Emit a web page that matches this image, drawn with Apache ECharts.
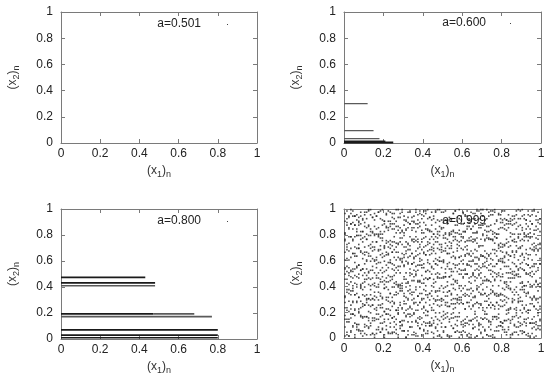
<!DOCTYPE html>
<html>
<head>
<meta charset="utf-8">
<script src="https://cdn.jsdelivr.net/npm/echarts@6/dist/echarts.min.js"></script>
<style>html,body{margin:0;padding:0;background:#fff}#c{width:550px;height:383px}</style>
</head>
<body>
<div id="c"></div>
<script>
// ---- data ----
const panelLabels = ["a=0.501", "a=0.600", "a=0.800", "a=0.999"];

// panel 2 (a=0.600): horizontal point bands (y level, x start, x end)
const p2Y  = [0.300, 0.095, 0.033, 0.012, 0.004];
const p2X0 = [0, 0, 0, 0, 0];
const p2X1 = [0.120, 0.150, 0.180, 0.210, 0.250];
const p2Dark = [0, 0, 0, 1, 1];

// panel 3 (a=0.800)
const p3Y  = [0.474, 0.432, 0.410, 0.193, 0.193, 0.172, 0.070, 0.030, 0.010];
const p3X0 = [0, 0, 0, 0, 0.470, 0, 0, 0, 0];
const p3X1 = [0.430, 0.480, 0.480, 0.470, 0.680, 0.770, 0.800, 0.800, 0.800];
const p3Dark = [1, 1, 0, 1, 0, 0, 1, 1, 1];

// panel 4 (a=0.999): points, each "xxyy" = x and y in hundredths
const p4 = [
"0001 0104 0201 0305 0409 0502 0606 0705 0803 0905 1008 1109 1207 1309 1403 1502 1603 1708 1804 1906 2002 2106 2204 2303 2403 2508 2603 2702 2807 2909 3005 3100 3202 3308 3408 3504 3601 3709 3807 3901 4006 4109 4203 4309 4409 4503 4607 4705 4801 4900 5005 5108 5202 5300 5409 5507 5604 5709 5804 5904 6005 6109 6202 6303 6400 6507 6608 6701 6806 6904 7000 7106 7202 7308 7406 7502 7600 7708 7809 7909 8008 8106 8202 8308 8400 8503 8604 8708 8802 8905 9003 9104 9202 9301 9401 9507 9600 9706 9807 9909",
"0008 0102 0201 0304 0408 0500 0608 0706 0805 0901 1003 1102 1208 1302 1403 1500 1606 1706 1804 1907 2000 2109 2203 2308 2404 2504 2606 2700 2809 2905 3005 3100 3205 3308 3402 3502 3603 3701 3807 3902 4005 4103 4205 4309 4404 4500 4608 4701 4802 4908 5004 5108 5201 5301 5401 5507 5604 5705 5800 5902 6008 6104 6201 6300 6402 6507 6600 6701 6809 6903 7008 7105 7202 7301 7401 7500 7605 7705 7805 7909 8006 8104 8204 8306 8402 8502 8609 8704 8808 8909 9005 9104 9209 9303 9400 9503 9608 9701 9809 9906",
"0014 0114 0212 0318 0418 0511 0610 0719 0817 0915 1016 1116 1215 1319 1413 1513 1614 1714 1816 1911 2012 2118 2214 2317 2415 2516 2614 2718 2812 2913 3013 3117 3218 3316 3417 3518 3613 3711 3816 3915 4012 4117 4211 4312 4410 4511 4619 4710 4819 4911 5014 5115 5216 5314 5418 5515 5616 5716 5819 5912 6013 6114 6216 6310 6413 6514 6618 6716 6811 6910 7014 7115 7214 7313 7412 7516 7616 7714 7818 7912 8011 8113 8213 8319 8413 8516 8610 8717 8812 8916 9010 9112 9214 9319 9411 9514 9611 9712 9817 9913",
"0017 0112 0214 0315 0418 0517 0610 0710 0816 0916 1010 1116 1213 1311 1415 1515 1618 1718 1811 1917 2014 2118 2218 2311 2415 2512 2610 2719 2812 2910 3019 3116 3212 3318 3412 3519 3612 3715 3814 3910 4019 4111 4217 4311 4415 4513 4616 4714 4813 4916 5017 5118 5219 5312 5415 5519 5610 5713 5816 5910 6010 6111 6211 6313 6413 6510 6615 6713 6810 6915 7014 7118 7218 7312 7410 7514 7616 7716 7815 7912 8011 8113 8218 8314 8411 8514 8616 8719 8815 8911 9019 9114 9211 9315 9411 9511 9616 9710 9819 9914",
"0023 0123 0220 0325 0427 0522 0627 0720 0823 0926 1025 1127 1225 1329 1425 1529 1621 1729 1825 1923 2020 2129 2222 2321 2428 2526 2621 2721 2827 2923 3028 3121 3229 3323 3422 3526 3621 3721 3827 3929 4023 4121 4220 4325 4421 4521 4628 4725 4824 4928 5020 5127 5224 5324 5426 5522 5623 5727 5829 5929 6026 6122 6227 6324 6429 6525 6626 6727 6823 6925 7021 7128 7228 7325 7427 7525 7622 7727 7822 7924 8028 8129 8221 8322 8422 8527 8629 8723 8828 8921 9028 9123 9220 9321 9421 9529 9624 9729 9821 9922",
"0027 0121 0228 0322 0428 0521 0628 0722 0828 0924 1025 1129 1220 1324 1425 1522 1623 1725 1823 1926 2020 2122 2228 2327 2424 2527 2621 2723 2825 2922 3026 3126 3222 3324 3429 3527 3627 3725 3827 3922 4024 4127 4220 4329 4423 4526 4629 4729 4829 4925 5029 5125 5227 5324 5429 5526 5626 5729 5826 5927 6026 6122 6227 6327 6422 6524 6620 6727 6826 6926 7023 7120 7223 7325 7423 7525 7624 7727 7825 7929 8024 8125 8227 8321 8423 8528 8622 8721 8827 8928 9025 9122 9225 9321 9426 9526 9624 9722 9827 9924",
"0032 0137 0234 0336 0436 0533 0639 0731 0839 0933 1032 1130 1230 1333 1430 1535 1639 1739 1832 1931 2038 2131 2237 2334 2431 2533 2635 2739 2836 2936 3032 3139 3230 3334 3433 3535 3637 3732 3839 3930 4030 4133 4233 4334 4432 4539 4635 4732 4836 4930 5035 5139 5235 5336 5433 5530 5637 5733 5838 5931 6033 6132 6233 6332 6438 6536 6632 6737 6839 6934 7033 7134 7239 7330 7437 7536 7633 7732 7833 7933 8038 8132 8239 8338 8438 8530 8637 8735 8833 8931 9039 9135 9232 9335 9431 9530 9631 9739 9830 9931",
"0031 0135 0237 0333 0438 0533 0634 0731 0838 0937 1039 1133 1230 1337 1430 1532 1631 1735 1834 1930 2038 2139 2231 2334 2439 2539 2633 2734 2838 2938 3034 3131 3236 3337 3435 3530 3639 3732 3834 3934 4037 4136 4231 4334 4436 4530 4636 4736 4838 4930 5038 5132 5232 5336 5434 5538 5630 5730 5831 5936 6038 6134 6237 6337 6434 6531 6631 6738 6835 6933 7037 7134 7232 7333 7434 7535 7634 7734 7832 7934 8033 8137 8231 8330 8437 8535 8633 8739 8830 8937 9037 9137 9234 9334 9439 9539 9632 9730 9836 9939",
"0045 0145 0241 0347 0440 0542 0647 0746 0841 0948 1043 1148 1246 1340 1446 1542 1646 1741 1843 1943 2041 2143 2248 2344 2445 2548 2643 2740 2840 2940 3047 3145 3242 3340 3444 3544 3649 3743 3843 3948 4042 4146 4245 4346 4440 4542 4649 4747 4846 4940 5046 5147 5243 5347 5441 5541 5643 5742 5840 5940 6047 6140 6249 6343 6442 6548 6647 6740 6849 6941 7042 7147 7244 7344 7443 7547 7644 7747 7840 7944 8047 8142 8243 8340 8446 8549 8646 8749 8847 8947 9042 9140 9249 9343 9441 9540 9641 9744 9841 9946",
"0049 0142 0248 0343 0446 0548 0641 0749 0840 0942 1045 1145 1241 1345 1441 1540 1648 1746 1845 1947 2044 2146 2243 2347 2447 2542 2641 2741 2841 2942 3045 3142 3243 3348 3449 3547 3648 3744 3844 3942 4045 4140 4245 4346 4449 4545 4643 4746 4849 4946 5047 5147 5240 5347 5448 5545 5644 5744 5849 5949 6046 6149 6249 6346 6447 6549 6644 6746 6848 6946 7044 7144 7245 7344 7449 7540 7645 7749 7848 7947 8049 8143 8241 8346 8443 8546 8648 8748 8849 8942 9043 9140 9240 9349 9448 9547 9649 9743 9841 9942",
"0054 0151 0254 0352 0451 0553 0655 0756 0852 0953 1057 1153 1250 1359 1455 1550 1654 1758 1858 1950 2051 2156 2258 2358 2457 2552 2654 2752 2850 2959 3056 3159 3258 3350 3457 3558 3655 3756 3859 3956 4057 4151 4258 4357 4455 4553 4657 4756 4859 4954 5058 5150 5257 5353 5451 5557 5656 5756 5857 5959 6057 6153 6257 6359 6459 6550 6657 6753 6852 6954 7057 7158 7254 7356 7452 7551 7650 7757 7850 7953 8058 8158 8255 8350 8453 8558 8657 8755 8853 8954 9053 9152 9257 9356 9454 9551 9655 9757 9852 9957",
"0053 0155 0250 0351 0453 0558 0654 0756 0852 0953 1050 1159 1251 1352 1452 1559 1657 1750 1852 1954 2059 2152 2254 2358 2453 2556 2650 2755 2855 2958 3055 3150 3257 3353 3457 3552 3651 3752 3856 3954 4054 4151 4252 4351 4454 4559 4657 4750 4859 4959 5059 5153 5255 5358 5453 5551 5654 5751 5853 5952 6052 6152 6256 6356 6455 6559 6652 6757 6855 6950 7055 7155 7259 7352 7457 7555 7655 7757 7859 7959 8059 8155 8250 8355 8450 8551 8651 8755 8852 8957 9058 9152 9250 9356 9450 9555 9657 9751 9854 9957",
"0060 0161 0260 0369 0465 0565 0669 0769 0867 0961 1066 1160 1265 1369 1467 1560 1662 1767 1864 1965 2063 2164 2265 2369 2466 2568 2666 2762 2860 2961 3064 3167 3262 3368 3465 3561 3667 3764 3861 3968 4066 4164 4260 4368 4468 4569 4661 4769 4868 4966 5060 5169 5265 5365 5462 5563 5662 5769 5862 5963 6060 6164 6268 6364 6463 6560 6668 6767 6861 6964 7063 7162 7261 7364 7465 7560 7668 7763 7869 7967 8066 8162 8266 8360 8463 8566 8662 8767 8869 8969 9065 9162 9265 9361 9464 9560 9667 9769 9868 9969",
"0066 0168 0267 0362 0465 0563 0663 0769 0866 0965 1064 1166 1263 1363 1461 1568 1660 1768 1868 1962 2069 2166 2264 2360 2466 2562 2660 2766 2861 2965 3062 3165 3268 3363 3465 3562 3663 3769 3865 3960 4065 4164 4267 4364 4465 4567 4665 4760 4862 4968 5067 5167 5265 5369 5469 5566 5661 5767 5862 5969 6068 6163 6265 6365 6467 6565 6662 6762 6860 6963 7063 7167 7265 7363 7461 7568 7665 7767 7860 7961 8061 8163 8265 8364 8463 8567 8664 8766 8860 8963 9064 9160 9268 9364 9469 9568 9668 9764 9867 9961",
"0076 0170 0273 0378 0476 0578 0679 0779 0879 0977 1070 1176 1279 1379 1470 1570 1674 1778 1871 1975 2070 2173 2270 2375 2474 2574 2670 2772 2877 2977 3079 3170 3273 3371 3476 3574 3675 3774 3872 3974 4077 4178 4272 4373 4470 4576 4678 4774 4879 4972 5079 5173 5276 5379 5471 5578 5676 5772 5871 5975 6078 6170 6275 6377 6478 6574 6676 6773 6871 6971 7071 7175 7279 7376 7476 7576 7678 7777 7871 7973 8070 8171 8273 8370 8471 8575 8676 8771 8878 8975 9076 9178 9279 9378 9477 9572 9673 9777 9872 9973",
"0075 0172 0278 0378 0475 0570 0679 0772 0876 0974 1078 1176 1271 1372 1474 1579 1674 1779 1877 1977 2071 2175 2274 2372 2471 2578 2673 2773 2874 2972 3070 3174 3272 3378 3475 3576 3678 3776 3870 3976 4070 4171 4274 4376 4478 4572 4674 4777 4872 4970 5077 5177 5271 5374 5473 5575 5678 5775 5874 5978 6077 6174 6271 6375 6475 6576 6675 6777 6870 6976 7079 7176 7277 7377 7476 7575 7673 7777 7872 7970 8072 8172 8276 8374 8478 8575 8674 8774 8877 8970 9071 9175 9278 9375 9478 9578 9670 9771 9876 9972",
"0080 0187 0285 0388 0484 0587 0684 0789 0882 0982 1086 1185 1287 1382 1482 1586 1680 1780 1882 1980 2088 2185 2285 2388 2484 2584 2686 2786 2885 2982 3081 3184 3285 3388 3483 3589 3688 3788 3889 3983 4089 4184 4284 4383 4487 4580 4689 4782 4886 4985 5089 5181 5288 5380 5480 5583 5681 5781 5883 5988 6088 6182 6284 6386 6484 6586 6688 6781 6885 6987 7080 7188 7282 7386 7483 7580 7681 7780 7880 7985 8089 8184 8288 8385 8488 8587 8680 8784 8880 8980 9083 9181 9288 9386 9484 9588 9680 9783 9884 9982",
"0081 0189 0284 0388 0489 0587 0682 0787 0888 0982 1089 1180 1286 1384 1481 1580 1684 1785 1880 1987 2082 2186 2283 2386 2488 2588 2681 2783 2881 2983 3087 3183 3289 3388 3485 3585 3682 3785 3886 3981 4081 4187 4283 4382 4482 4580 4684 4780 4882 4984 5085 5180 5289 5381 5482 5582 5687 5787 5880 5980 6082 6182 6286 6389 6484 6581 6681 6782 6887 6985 7087 7183 7286 7382 7487 7582 7688 7780 7884 7989 8085 8187 8283 8388 8481 8580 8688 8789 8886 8987 9085 9180 9284 9380 9481 9588 9683 9786 9889 9988",
"0096 0198 0293 0396 0498 0594 0695 0790 0897 0992 1095 1197 1299 1399 1493 1596 1694 1797 1892 1999 2090 2196 2290 2397 2496 2592 2699 2799 2896 2999 3094 3191 3293 3398 3490 3594 3697 3795 3896 3995 4094 4198 4292 4393 4497 4592 4698 4799 4899 4997 5091 5198 5290 5393 5492 5596 5698 5790 5892 5994 6097 6194 6294 6392 6490 6596 6692 6799 6892 6996 7099 7191 7292 7394 7498 7595 7699 7790 7895 7992 8091 8198 8291 8390 8490 8594 8694 8795 8899 8998 9094 9192 9291 9395 9490 9595 9699 9791 9891 9992",
"0090 0192 0294 0399 0494 0594 0691 0793 0894 0991 1097 1192 1298 1395 1493 1591 1694 1797 1898 1991 2090 2195 2298 2390 2493 2596 2690 2793 2893 2997 3091 3190 3297 3397 3493 3590 3699 3791 3898 3992 4098 4196 4299 4393 4491 4594 4697 4791 4890 4991 5097 5191 5291 5391 5491 5596 5698 5793 5899 5991 6096 6195 6298 6391 6497 6592 6696 6798 6898 6999 7094 7191 7299 7397 7495 7598 7697 7791 7896 7995 8098 8192 8291 8395 8492 8591 8692 8798 8892 8992 9099 9195 9291 9398 9494 9598 9698 9794 9897 9992"
];

// ---- chart ----
const FONT = 'Liberation Sans, Arial, sans-serif';
const grids = [
  {left: 61, top: 12, width: 196, height: 131},
  {left: 344, top: 12, width: 197, height: 131},
  {left: 61, top: 209, width: 196, height: 130},
  {left: 344, top: 209, width: 197, height: 129}
];
const axisColor = '#7a7a7a';
const rich = {
  t: {fontSize: 12, color: '#333', fontFamily: FONT, lineHeight: 16, verticalAlign: 'middle'},
  s: {fontSize: 9, color: '#333', fontFamily: FONT, lineHeight: 9, verticalAlign: 'bottom'}
};
const xAxes = [], yAxes = [];
grids.forEach((g, i) => {
  xAxes.push({
    type: 'value', gridIndex: i, min: 0, max: 1, interval: 0.2, position: 'bottom',
    axisLine: {lineStyle: {color: axisColor, width: 1}},
    axisTick: {inside: true, length: 4, lineStyle: {color: axisColor}},
    axisLabel: {margin: 5, color: '#222', fontSize: 12, fontFamily: FONT},
    splitLine: {show: false},
    name: '{t|(x}{s|1}{t|)}{s|n}', nameLocation: 'middle', nameGap: 20,
    nameTextStyle: {rich: rich}
  });
  yAxes.push({
    type: 'value', gridIndex: i, min: 0, max: 1, interval: 0.2, position: 'left',
    axisLine: {show: true, lineStyle: {color: axisColor, width: 1}},
    axisTick: {show: true, inside: true, length: 4, lineStyle: {color: axisColor}},
    axisLabel: {margin: 8, color: '#222', fontSize: 12, fontFamily: FONT},
    splitLine: {show: false},
    name: '{t|(x}{s|2}{t|)}{s|n}', nameLocation: 'middle', nameGap: 40, nameRotate: 90,
    nameTextStyle: {rich: rich}
  });
});
grids.forEach((g, i) => {
  xAxes.push({
    type: 'value', gridIndex: i, min: 0, max: 1, interval: 0.2, position: 'top',
    axisLine: {onZero: false, lineStyle: {color: axisColor, width: 1}},
    axisTick: {inside: true, length: 4, lineStyle: {color: axisColor}},
    axisLabel: {show: false}, splitLine: {show: false}
  });
  yAxes.push({
    type: 'value', gridIndex: i, min: 0, max: 1, interval: 0.2, position: 'right',
    axisLine: {show: true, onZero: false, lineStyle: {color: axisColor, width: 1}},
    axisTick: {show: true, inside: true, length: 4, lineStyle: {color: axisColor}},
    axisLabel: {show: false}, splitLine: {show: false}
  });
});

const series = [];
function bandSeries(idx, ys, x0s, x1s, dark, wDark, wLight) {
  ys.forEach((y, k) => {
    series.push({
      type: 'line', xAxisIndex: idx, yAxisIndex: idx, silent: true,
      showSymbol: false, symbol: 'none', animation: false,
      lineStyle: {color: dark[k] ? '#1a1a1a' : '#5a5a5a', width: dark[k] ? wDark : wLight},
      data: [[x0s[k], y], [x1s[k], y]]
    });
  });
}
bandSeries(1, p2Y, p2X0, p2X1, p2Dark, 2, 1.2);
bandSeries(2, p3Y, p3X0, p3X1, p3Dark, 1.6, 1.6);

const p4Data = [];
p4.forEach(row => row.trim().split(/\s+/).forEach(s => {
  p4Data.push([(parseInt(s.slice(0, 2), 10) + 0.5) / 100, (parseInt(s.slice(2, 4), 10) + 0.5) / 100]);
}));
series.push({
  type: 'scatter', xAxisIndex: 3, yAxisIndex: 3, silent: true, animation: false,
  symbol: 'rect', symbolSize: 1.6, itemStyle: {color: '#222'}, data: p4Data
});

const keyPos = [[201, 24, 227], [486, 23, 510], [201, 221, 227], [486, 221, 510]];
const graphic = [];
keyPos.forEach((p, i) => {
  graphic.push({type: 'text', z: 100, x: p[0], y: p[1],
    style: {text: panelLabels[i], font: '12px ' + FONT, fill: '#222', textAlign: 'right', textVerticalAlign: 'middle'}});
  graphic.push({type: 'rect', z: 100, shape: {x: p[2], y: p[1], width: 1, height: 1}, style: {fill: '#444'}});
});

const chart = echarts.init(document.getElementById('c'), null, {renderer: 'canvas'});
chart.setOption({
  animation: false,
  backgroundColor: '#fff',
  grid: grids,
  xAxis: xAxes,
  yAxis: yAxes,
  series: series,
  graphic: graphic
});
</script>
</body>
</html>
